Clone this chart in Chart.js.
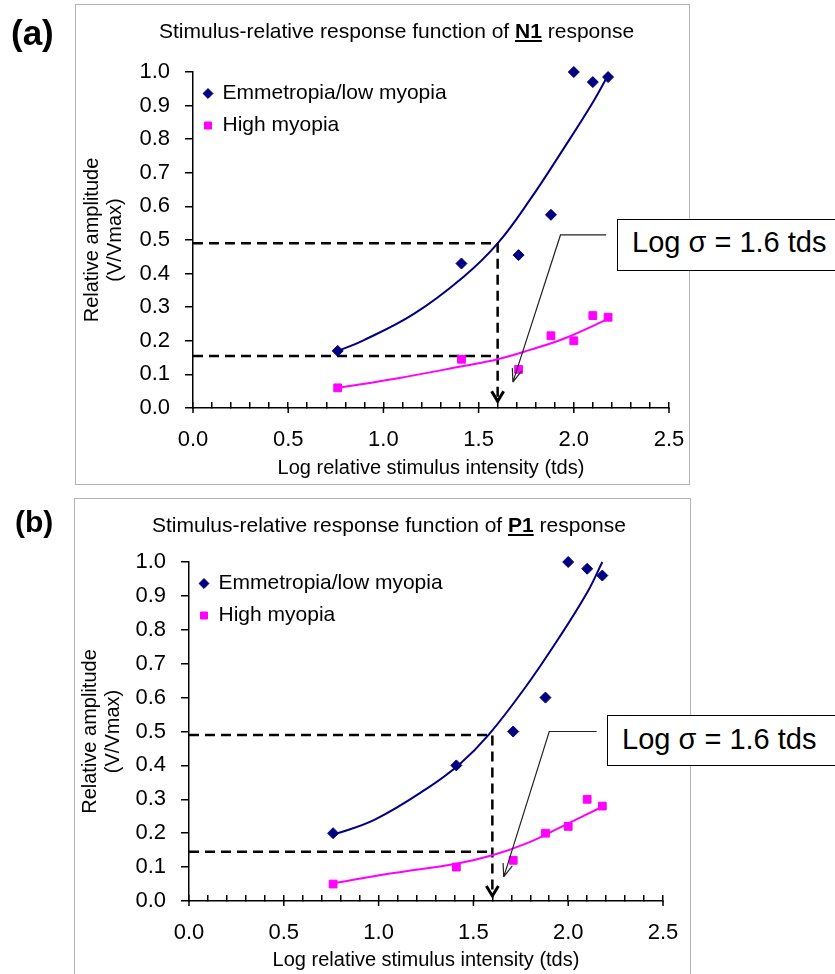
<!DOCTYPE html>
<html>
<head>
<meta charset="utf-8">
<script src="https://cdn.jsdelivr.net/npm/chart.js@4.4.1/dist/chart.umd.min.js"></script>
<style>
  body { margin: 0; width: 835px; height: 974px; overflow: hidden; background: #fff; position: relative;
         font-family: "Liberation Sans", Arial, sans-serif; color: #000; }
  .panel { position: absolute; border: 1.5px solid #b4b4b4; box-sizing: border-box; }
  canvas { position: absolute; left: 0; z-index: 1; }
  .lbl { position: absolute; font-weight: bold; line-height: 1; white-space: nowrap; z-index: 2; }
  .ttl { position: absolute; font-size: 21px; line-height: 1; white-space: nowrap; z-index: 2; }
  .box { position: absolute; border: 1.5px solid #000; background: #fff; box-sizing: border-box; width: 260px; z-index: 2; }
  .boxtxt { position: absolute; font-size: 29px; line-height: 1; white-space: nowrap; z-index: 3; }
</style>
</head>
<body>
<div class="panel" style="left:75px;top:4px;width:615px;height:481px"></div>
<div class="panel" style="left:74px;top:498px;width:617px;height:500px"></div>

<canvas id="chartN1" width="835" height="490" style="top:0"></canvas>
<canvas id="chartP1" width="835" height="484" style="top:490px"></canvas>

<div class="lbl" style="left:11px;top:15px;font-size:35px">(a)</div>
<div class="lbl" style="left:15px;top:507px;font-size:30px">(b)</div>
<div class="ttl" style="left:159px;top:20px">Stimulus-relative response function of <b><u>N1</u></b> response</div>
<div class="ttl" style="left:152px;top:514px">Stimulus-relative response function of <b><u>P1</u></b> response</div>

<div class="box" style="left:617px;top:219px;height:52px"></div>
<div class="boxtxt" style="left:632px;top:228px">Log σ = 1.6 tds</div>
<div class="box" style="left:607px;top:715px;height:51px"></div>
<div class="boxtxt" style="left:622px;top:725px">Log σ = 1.6 tds</div>

<script>
// measured points (log relative stimulus intensity)
const stimLog = [0.76, 1.41, 1.71, 1.88, 2.0, 2.1, 2.18];
const n1Emm  = [0.17, 0.43, 0.455, 0.575, 1.0, 0.97, 0.985];
const n1High = [0.06, 0.145, 0.115, 0.215, 0.2, 0.275, 0.27];
const p1Emm  = [0.2, 0.4, 0.5, 0.6, 1.0, 0.98, 0.96];
const p1High = [0.05, 0.1, 0.12, 0.2, 0.22, 0.3, 0.28];

// fitted curves
const n1EmmFitX  = [0.76, 0.89, 1.16, 1.42, 1.6, 1.77, 1.95, 2.09, 2.18];
const n1EmmFitY  = [0.17, 0.2, 0.28, 0.39, 0.49, 0.62, 0.775, 0.9, 0.99];
const n1HighFitX = [0.76, 1.07, 1.42, 1.6, 1.77, 1.95, 2.18];
const n1HighFitY = [0.06, 0.088, 0.125, 0.145, 0.173, 0.207, 0.265];
const p1EmmFitX  = [0.76, 0.98, 1.25, 1.43, 1.58, 1.78, 1.95, 2.1, 2.18];
const p1EmmFitY  = [0.195, 0.24, 0.33, 0.405, 0.49, 0.635, 0.775, 0.91, 1.0];
const p1HighFitX = [0.76, 1.07, 1.41, 1.6, 1.78, 1.95, 2.18];
const p1HighFitY = [0.052, 0.082, 0.11, 0.135, 0.17, 0.215, 0.278];

// log sigma and the amplitudes read at it (emm, high)
const sigma = 1.6;
const n1Half = [0.49, 0.155];
const p1Half = [0.49, 0.145];

const xMajor = [0.0, 0.5, 1.0, 1.5, 2.0, 2.5];
const yTickLabels = ['0.0','0.1','0.2','0.3','0.4','0.5','0.6','0.7','0.8','0.9','1.0'];

const NAVY = '#000080';
const PINK = '#ff00ff';
const FONT = '"Liberation Sans", Arial, sans-serif';

Chart.defaults.font.family = FONT;
Chart.defaults.color = '#000';

const pts = (xs, ys) => xs.map((x, i) => ({ x: x, y: ys[i] }));
const isMajor = v => xMajor.some(m => Math.abs(m - v) < 1e-6);

const extras = {
  id: 'extras',
  afterLayout(chart) {
    // keep the legend inside the plot area, top-left
    const lg = chart.legend;
    if (lg) {
      const h = lg.bottom - lg.top;
      lg.top = chart.chartArea.top;
      lg.bottom = lg.top + h;
    }
  },
  afterDatasetsDraw(chart, args, o) {
    const ctx = chart.ctx, xs = chart.scales.x, ys = chart.scales.y;
    ctx.save();
    ctx.strokeStyle = '#000';
    ctx.lineWidth = 1.5;
    ctx.beginPath();
    xMajor.forEach(v => {
      const px = xs.getPixelForValue(v);
      ctx.moveTo(px, ys.bottom);
      ctx.lineTo(px, ys.bottom + 5);
    });
    ctx.stroke();

    // arrow at the bottom of the dashed drop line
    const ax = xs.getPixelForValue(sigma), ay = ys.getPixelForValue(o.arrowY);
    ctx.lineWidth = 3;
    ctx.beginPath();
    ctx.moveTo(ax - 6, ay - 10);
    ctx.lineTo(ax, ay);
    ctx.lineTo(ax + 6, ay - 10);
    ctx.stroke();

    // leader from the callout box
    const p = o.leader.map(q => [xs.getPixelForValue(q[0]), ys.getPixelForValue(q[1])]);
    ctx.lineWidth = 1.2;
    ctx.strokeStyle = '#222';
    ctx.beginPath();
    ctx.moveTo(p[0][0], p[0][1]);
    p.slice(1).forEach(q => ctx.lineTo(q[0], q[1]));
    const t = p[p.length - 1], s = p[p.length - 2];
    const ang = Math.atan2(t[1] - s[1], t[0] - s[0]);
    [-0.35, 0.35].forEach(d => {
      ctx.moveTo(t[0], t[1]);
      ctx.lineTo(t[0] - 14 * Math.cos(ang + d), t[1] - 14 * Math.sin(ang + d));
    });
    ctx.stroke();
    ctx.restore();
  }
};

function fitLine(xs, ys, color) {
  return {
    label: 'fit', data: pts(xs, ys), showLine: true, borderColor: color, borderWidth: 2,
    pointRadius: 0, tension: 0.4, fill: false, clip: false
  };
}

function dashLine(data) {
  return {
    label: 'ref', data: data, showLine: true, borderColor: '#000', borderWidth: 2.5,
    borderDash: [10, 6], pointRadius: 0, tension: 0, fill: false, clip: false
  };
}

function buildChart(id, d, lay) {
  return new Chart(document.getElementById(id), {
    type: 'scatter',
    data: {
      datasets: [
        { label: 'Emmetropia/low myopia', data: pts(stimLog, d.emm), pointStyle: 'rectRot', pointRadius: 5.5,
          backgroundColor: NAVY, borderColor: NAVY, borderWidth: 1, clip: false },
        { label: 'High myopia', data: pts(stimLog, d.high), pointStyle: 'rect', pointRadius: 5.5,
          backgroundColor: PINK, borderColor: PINK, borderWidth: 1, clip: false },
        fitLine(d.emmFitX, d.emmFitY, NAVY),
        fitLine(d.highFitX, d.highFitY, PINK),
        dashLine([{ x: 0, y: d.half[0] }, { x: sigma, y: d.half[0] }, { x: sigma, y: lay.arrowY }]),
        dashLine([{ x: 0, y: d.half[1] }, { x: sigma, y: d.half[1] }])
      ]
    },
    options: {
      responsive: false,
      animation: false,
      devicePixelRatio: 1,
      events: [],
      layout: { padding: lay.padding },
      plugins: {
        tooltip: { enabled: false },
        legend: {
          position: 'chartArea',
          align: 'start',
          labels: {
            filter: item => item.datasetIndex < 2,
            usePointStyle: true,
            boxWidth: 8,
            boxHeight: 7,
            padding: 11,
            color: '#000',
            font: { size: 21 }
          }
        },
        extras: { arrowY: lay.arrowY, leader: lay.leader }
      },
      scales: {
        x: {
          type: 'linear',
          min: 0, max: 2.5,
          afterFit: s => { s.height = lay.xHeight; },
          border: { color: '#000', width: 1.5 },
          grid: { drawOnChartArea: false, color: '#000', lineWidth: 1.5, tickLength: -6 },
          ticks: {
            stepSize: 0.1, maxTicksLimit: 40, autoSkip: false, maxRotation: 0,
            padding: 25, color: '#000', font: { size: 22 },
            callback: v => isMajor(v) ? xMajor.find(m => Math.abs(m - v) < 1e-6).toFixed(1) : ''
          },
          title: {
            display: true, text: 'Log relative stimulus intensity (tds)', color: '#000',
            font: { size: 20, lineHeight: 1.15 }, padding: { top: 0, bottom: lay.xTitlePad }
          }
        },
        y: {
          type: 'linear',
          min: 0, max: 1,
          afterFit: s => { s.width = lay.yWidth; },
          border: { color: '#000', width: 1.5 },
          grid: { drawOnChartArea: false, color: '#000', lineWidth: 1.5, tickLength: 8 },
          ticks: {
            stepSize: 0.1, padding: 15, color: '#000', font: { size: 22 },
            callback: v => yTickLabels[Math.round(v * 10)]
          },
          title: {
            display: true, text: ['Relative amplitude', '(V/Vmax)'], color: '#000',
            font: { size: 20, lineHeight: 1.15 }, padding: { top: 10.5, bottom: 0 }
          }
        }
      }
    },
    plugins: [extras]
  });
}

buildChart('chartN1',
  { emm: n1Emm, high: n1High, emmFitX: n1EmmFitX, emmFitY: n1EmmFitY,
    highFitX: n1HighFitX, highFitY: n1HighFitY, half: n1Half },
  { padding: { left: 70, top: 72, right: 166, bottom: 0 }, yWidth: 123, xHeight: 82, xTitlePad: 10.5,
    arrowY: 0.02, leader: [[2.17, 0.515], [1.93, 0.515], [1.68, 0.077]] });

buildChart('chartP1',
  { emm: p1Emm, high: p1High, emmFitX: p1EmmFitX, emmFitY: p1EmmFitY,
    highFitX: p1HighFitX, highFitY: p1HighFitY, half: p1Half },
  { padding: { left: 68, top: 72, right: 172, bottom: 0 }, yWidth: 121, xHeight: 73, xTitlePad: 2.5,
    arrowY: 0.015, leader: [[2.15, 0.5], [1.9, 0.5], [1.66, 0.071]] });
</script>
</body>
</html>
